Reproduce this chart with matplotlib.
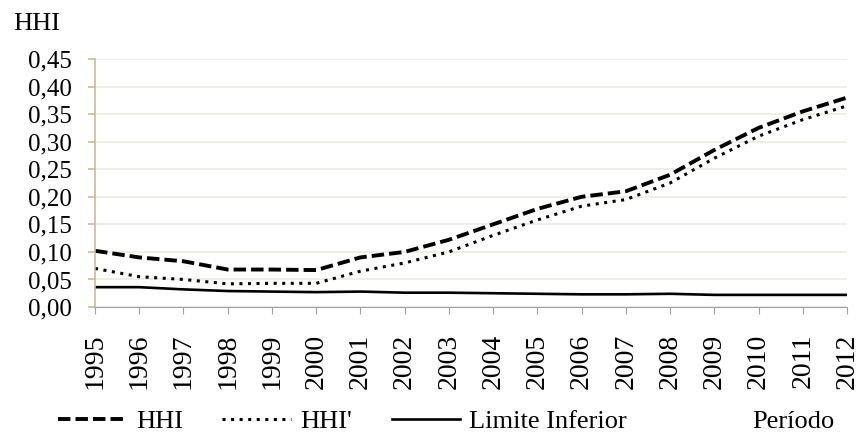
import matplotlib.pyplot as plt
from matplotlib.ticker import FuncFormatter

plt.rcParams['font.family'] = ['Liberation Serif', 'DejaVu Serif']

years = list(range(1995, 2013))
hhi = [0.102, 0.090, 0.083, 0.068, 0.068, 0.067, 0.090, 0.100, 0.122, 0.150,
       0.178, 0.200, 0.210, 0.240, 0.285, 0.325, 0.355, 0.380]
hhi_prime = [0.070, 0.055, 0.050, 0.042, 0.043, 0.043, 0.065, 0.080, 0.100, 0.130,
             0.158, 0.183, 0.195, 0.225, 0.270, 0.310, 0.340, 0.365]
limite = [0.036, 0.036, 0.032, 0.029, 0.028, 0.027, 0.028, 0.026, 0.026, 0.025,
          0.024, 0.023, 0.023, 0.024, 0.022, 0.022, 0.022, 0.022]

fig = plt.figure(figsize=(8.6, 4.34), dpi=100)
ax = fig.add_axes([0.1105, 0.2926, 0.8744, 0.5714])

ax.plot(years, hhi, color='black', lw=2.8, ls=(0, (3.2, 1.3)), label='HHI')
ax.plot(years, hhi_prime, color='black', lw=2.2, ls=(0, (1.0, 1.8)), label="HHI'")
ax.plot(years, limite, color='black', lw=1.9, label='Limite Inferior')

ax.set_xlim(1995, 2012)
ax.set_ylim(0, 0.45)
ax.set_yticks([i * 0.05 for i in range(10)])
ax.yaxis.set_major_formatter(FuncFormatter(lambda v, p: f'{v:.2f}'.replace('.', ',')))
ax.set_xticks(years)
ax.set_xticklabels([str(y) for y in years], rotation=90)
ax.grid(axis='y', color='#efeadf', lw=1.2)
ax.set_axisbelow(True)

for s in ['top', 'right']:
    ax.spines[s].set_visible(False)
ax.spines['left'].set_color('#c8bc96')
ax.spines['left'].set_linewidth(1.2)
ax.spines['bottom'].set_color('#a0a0a0')
ax.tick_params(axis='y', colors='#c8bc96', labelcolor='black', length=5, width=1.2,
               labelsize=18, pad=12)
ax.tick_params(axis='x', colors='#a0a0a0', labelcolor='black', length=5,
               labelsize=20, pad=14)

fig.text(13 / 860, 1 - 13 / 434, 'HHI', fontsize=19, va='top')
fig.text(752 / 860, 6 / 434, 'Período', fontsize=19, va='baseline')
fig.legend(loc='lower left', bbox_to_anchor=(58 / 860, 0.002), ncol=3, frameon=False,
           fontsize=19, handlelength=2.6, handletextpad=0.35, columnspacing=1.5,
           borderpad=0, borderaxespad=0)

fig.savefig('out.png')
